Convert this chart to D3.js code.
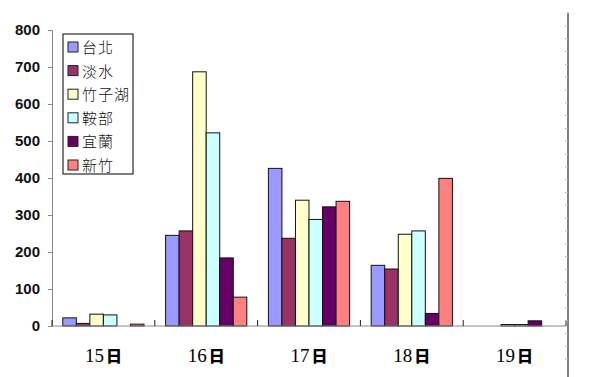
<!DOCTYPE html>
<html>
<head>
<meta charset="utf-8">
<script src="https://cdn.jsdelivr.net/npm/d3@7"></script>
<style>
  body { margin: 0; background: #fff; }
  svg { display: block; }
</style>
</head>
<body>
<script>
const days = ["15日", "16日", "17日", "18日", "19日"];
const stations = ["台北", "淡水", "竹子湖", "鞍部", "宜蘭", "新竹"];
const colors = ["#9999ff", "#993366", "#ffffcc", "#ccffff", "#660066", "#ff8080"];
const taipei   = [22, 245, 426, 164, 0];
const tamsui   = [7, 257, 237, 154, 0];
const zhuzihu  = [32, 687, 340, 248, 4];
const anbu     = [30, 522, 288, 257, 4];
const yilan    = [0, 184, 322, 34, 14];
const hsinchu  = [5, 78, 337, 399, 0];
const yTicks = [0, 100, 200, 300, 400, 500, 600, 700, 800];

const series = [taipei, tamsui, zhuzihu, anbu, yilan, hsinchu];
const W = 590, H = 377;
const padL = 52, padR = 566, padT = 30, padB = 326;

const svg = d3.select("body").append("svg").attr("width", W).attr("height", H);

const x0 = d3.scaleBand().domain(days).range([padL, padR])
    .paddingInner(0.21).paddingOuter(0.105);
const x1 = d3.scaleBand().domain(stations).range([0, x0.bandwidth()]);
const y = d3.scaleLinear().domain([0, 800]).range([padB, padT]);

// bars
const rows = days.map((d, i) => ({day: d, vals: stations.map((s, j) => ({s: s, v: series[j][i], c: colors[j]}))}));
svg.append("g").selectAll("g").data(rows).enter().append("g")
    .attr("transform", d => "translate(" + x0(d.day) + ",0)")
    .selectAll("rect").data(d => d.vals.filter(o => o.v > 0)).enter().append("rect")
    .attr("x", o => x1(o.s))
    .attr("y", o => y(o.v))
    .attr("width", x1.bandwidth())
    .attr("height", o => y(0) - y(o.v))
    .attr("fill", o => o.c)
    .attr("stroke", "#111")
    .attr("stroke-width", 1);

// y axis
const yAxis = d3.axisLeft(y).tickValues(yTicks).tickSize(4).tickPadding(8);
const gy = svg.append("g").attr("transform", "translate(" + padL + ",0)").call(yAxis);
gy.select(".domain").attr("stroke", "#888");
gy.selectAll(".tick line").attr("stroke", "#888");
gy.selectAll("text").attr("font-family", "Liberation Sans, Arial, sans-serif")
    .attr("font-size", 15).attr("font-weight", "bold").attr("fill", "#111");

// x axis
svg.append("line").attr("x1", padL).attr("x2", padR).attr("y1", padB).attr("y2", padB)
    .attr("stroke", "#888");
const bounds = days.map(d => x0(d) - x0.step() * x0.paddingInner() / 2).concat([padR]);
svg.append("g").selectAll("line").data(bounds).enter().append("line")
    .attr("x1", d => d).attr("x2", d => d).attr("y1", padB).attr("y2", padB - 6)
    .attr("stroke", "#222");
const xl = svg.append("g").selectAll("text").data(days).enter().append("text")
    .attr("x", d => x0(d) + x0.bandwidth() / 2)
    .attr("y", 362)
    .attr("text-anchor", "middle")
    .attr("font-family", "Liberation Serif, serif")
    .attr("font-size", 19)
    .attr("fill", "#000");
xl.append("tspan").text(d => d.slice(0, 2));
xl.append("tspan").attr("font-family", "Noto Sans CJK JP, sans-serif").attr("font-weight", "900")
    .attr("font-size", 16).attr("dx", 2).text(d => d.slice(2));

// right border line with small ticks
const yr = d3.scaleLinear().domain([0, 28]).range([13, 372]);
svg.append("line").attr("x1", 568).attr("x2", 568).attr("y1", 13).attr("y2", H).attr("stroke", "#000");
svg.append("g").selectAll("line").data(d3.range(1, 28)).enter().append("line")
    .attr("x1", 565).attr("x2", 568).attr("y1", d => yr(d)).attr("y2", d => yr(d))
    .attr("stroke", "#bbb");

// legend
const lg = svg.append("g").attr("transform", "translate(63,34)");
lg.append("rect").attr("width", 70).attr("height", 140).attr("fill", "#fff")
    .attr("stroke", "#000").attr("stroke-width", 1);
const items = lg.selectAll("g.item").data(stations).enter().append("g")
    .attr("class", "item")
    .attr("transform", (d, i) => "translate(5," + (8 + i * 23.6) + ")");
items.append("rect").attr("width", 10).attr("height", 10)
    .attr("fill", (d, i) => colors[i]).attr("stroke", "#222");
items.append("text").attr("x", 14).attr("y", 11)
    .attr("font-family", "Noto Sans CJK TC, sans-serif")
    .attr("font-size", 15).attr("font-weight", 300).attr("letter-spacing", 1).attr("fill", "#111")
    .text(d => d);
</script>
</body>
</html>
